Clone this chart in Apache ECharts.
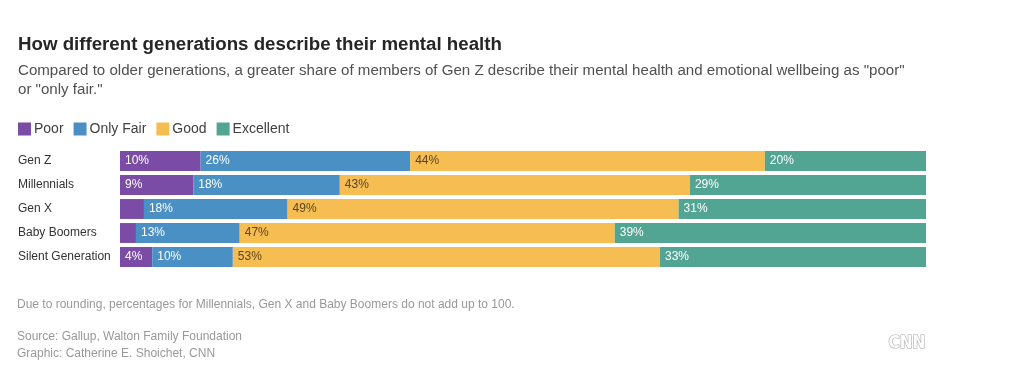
<!DOCTYPE html>
<html><head><meta charset="utf-8">
<script src="https://cdn.jsdelivr.net/npm/echarts@6/dist/echarts.min.js"></script>
<style>html,body{margin:0;padding:0;background:#fff}#c{width:1035px;height:379px}</style>
</head><body><div id="c"></div>
<script>
const categories = ["Gen Z", "Millennials", "Gen X", "Baby Boomers", "Silent Generation"];
const poor = [10, 9, 3, 2, 4];
const onlyFair = [26, 18, 18, 13, 10];
const good = [44, 43, 49, 47, 53];
const excellent = [20, 29, 31, 39, 33];
const seriesNames = ["Poor", "Only Fair", "Good", "Excellent"];
const colors = ["#7b4ca6", "#4a90c5", "#f6be52", "#52a593"];
const labelColors = ["#ffffff", "#ffffff", "#5a4420", "#ffffff"];

const all = [poor, onlyFair, good, excellent];
const totals = categories.map((_, i) => all.reduce((s, a) => s + a[i], 0));
const font = '"Liberation Sans", Arial, sans-serif';

const chart = echarts.init(document.getElementById('c'));
chart.setOption({
  animation: false,
  textStyle: { fontFamily: font },
  title: [
    { text: 'How different generations describe their mental health', left: 18, top: 35, padding: 0,
      textStyle: { fontSize: 18.7, fontWeight: 'bold', color: '#262626', fontFamily: font } },
    { text: 'Compared to older generations, a greater share of members of Gen Z describe their mental health and emotional wellbeing as "poor"\nor "only fair."', left: 18, top: 61, padding: 0,
      textStyle: { fontSize: 15.1, fontWeight: 'normal', color: '#505050', lineHeight: 19, fontFamily: font } }
  ],
  legend: {
    left: 18, top: 122, padding: 0, itemWidth: 13, itemHeight: 13, itemGap: 10, icon: 'rect',
    textStyle: { fontSize: 14, color: '#404040', padding: [0, 0, 0, -2] },
    data: seriesNames
  },
  grid: { left: 120, right: 109, top: 149, height: 120 },
  xAxis: { type: 'value', min: 0, max: 100, show: false },
  yAxis: {
    type: 'category', data: categories, inverse: true,
    axisLine: { show: false }, axisTick: { show: false },
    axisLabel: { align: 'left', margin: 102, fontSize: 12, color: '#333' }
  },
  series: all.map((arr, k) => ({
    name: seriesNames[k], type: 'bar', stack: 'total', barCategoryGap: '17%',
    itemStyle: { color: colors[k] },
    data: arr.map((v, i) => ({ value: v / totals[i] * 100, raw: v })),
    label: {
      show: true, position: 'insideLeft', offset: [0, 0], fontSize: 12, color: labelColors[k],
      formatter: p => p.data.raw >= 4 ? p.data.raw + '%' : ''
    }
  })),
  graphic: [
    { type: 'text', left: 17, top: 299, style: { text: 'Due to rounding, percentages for Millennials, Gen X and Baby Boomers do not add up to 100.', fontSize: 12, fill: '#999', fontFamily: font } },
    { type: 'text', left: 17, top: 328, style: { text: 'Source: Gallup, Walton Family Foundation\nGraphic: Catherine E. Shoichet, CNN', fontSize: 12, lineHeight: 17, fill: '#999', fontFamily: font } },
    { type: 'text', left: 888, top: 334, style: { text: 'CNN', fontSize: 17, fontWeight: 'bold', fill: '#fff', stroke: '#aaa', lineWidth: 1.2, fontFamily: '"Liberation Sans Narrow", "DejaVu Sans Condensed", sans-serif' } }
  ]
});
</script></body></html>
